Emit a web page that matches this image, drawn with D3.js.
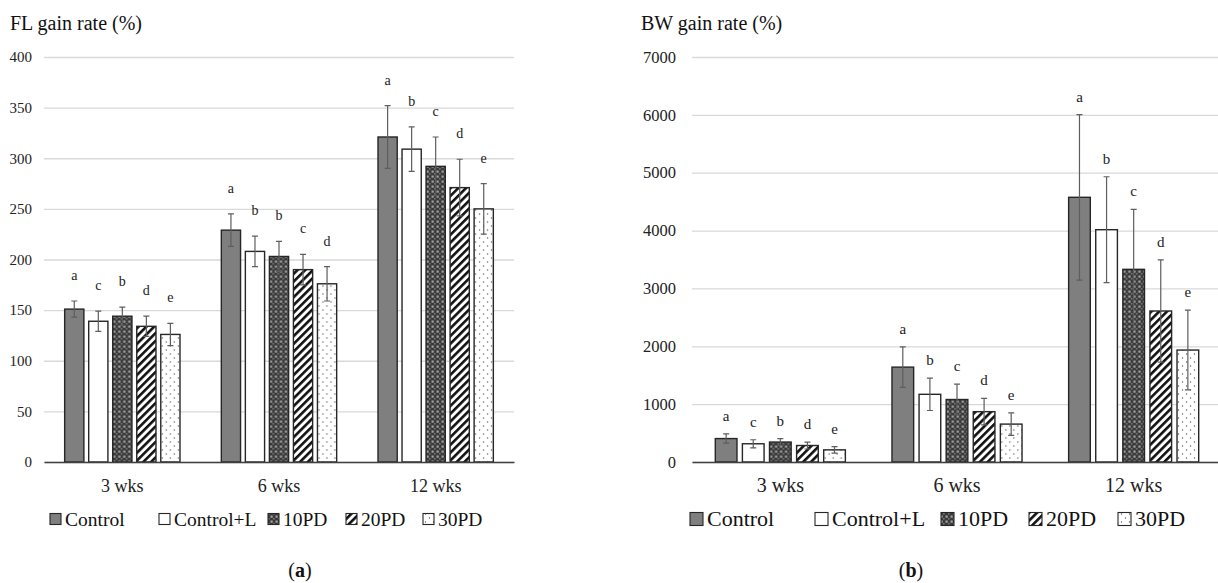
<!DOCTYPE html>
<html>
<head>
<meta charset="utf-8">
<script src="https://cdn.jsdelivr.net/npm/d3@7"></script>
<style>
  body { margin: 0; background: #fff; }
  svg, svg text { font-family: "Liberation Serif", "Tinos", "Times New Roman", "DejaVu Serif", serif !important; }
</style>
</head>
<body>
<script>
const width = 1218
const height = 583
const serif = "'Liberation Serif', Tinos, 'Times New Roman', 'DejaVu Serif', serif"

// data
const weeks = ["3 wks", "6 wks", "12 wks"]
const groups = ["Control", "Control+L", "10PD", "20PD", "30PD"]

const flMean = [[151, 139, 144, 134, 126], [229, 208, 203, 190, 176], [321, 309, 292, 271, 250]]
const flErr = [[8, 10, 9, 10, 11], [16, 15, 15, 15, 17], [31, 22, 29, 28, 25]]
const flLetters = [["a", "c", "b", "d", "e"], ["a", "b", "b", "c", "d"], ["a", "b", "c", "d", "e"]]
const flTicks = [0, 50, 100, 150, 200, 250, 300, 350, 400]

const bwMean = [[405, 315, 345, 285, 210], [1640, 1170, 1080, 870, 655], [4575, 4015, 3330, 2610, 1935]]
const bwErr = [[80, 70, 60, 60, 55], [350, 280, 265, 230, 195], [1430, 915, 1035, 885, 690]]
const bwLetters = [["a", "c", "b", "d", "e"], ["a", "b", "c", "d", "e"], ["a", "b", "c", "d", "e"]]
const bwTicks = [0, 1000, 2000, 3000, 4000, 5000, 6000, 7000]

const fills = ["#7f7f7f", "#ffffff", "url(#p10)", "url(#p20)", "url(#p30)"]

const svg = d3.select("body").append("svg").attr("width", width).attr("height", height)
    .attr("font-family", serif)

// patterns for the PD groups
const defs = svg.append("defs")
const p10 = defs.append("pattern").attr("id", "p10").attr("patternUnits", "userSpaceOnUse")
    .attr("width", 5).attr("height", 5)
p10.append("rect").attr("width", 5).attr("height", 5).attr("fill", "#3a3a3a")
p10.append("rect").attr("x", 0.5).attr("y", 0.5).attr("width", 2.2).attr("height", 2.2).attr("fill", "#a5a5a5")
p10.append("rect").attr("x", 3).attr("y", 3).attr("width", 1.6).attr("height", 1.6).attr("fill", "#777")

const p20 = defs.append("pattern").attr("id", "p20").attr("patternUnits", "userSpaceOnUse")
    .attr("width", 5.5).attr("height", 10).attr("patternTransform", "rotate(45)")
p20.append("rect").attr("width", 5.5).attr("height", 10).attr("fill", "#fff")
p20.append("rect").attr("width", 2.6).attr("height", 10).attr("fill", "#111")

const p30 = defs.append("pattern").attr("id", "p30").attr("patternUnits", "userSpaceOnUse")
    .attr("width", 8).attr("height", 8)
p30.append("rect").attr("width", 8).attr("height", 8).attr("fill", "#fff")
p30.append("circle").attr("cx", 1.5).attr("cy", 2).attr("r", 0.7).attr("fill", "#555")
p30.append("circle").attr("cx", 5.5).attr("cy", 6).attr("r", 0.7).attr("fill", "#555")

function drawChart(c) {
    const g = svg.append("g")

    let y = d3.scaleLinear().domain([0, c.ticks[c.ticks.length - 1]]).range([462, 57])
    let x0 = d3.scaleBand().domain(weeks).range([c.left, c.right])
    let x1 = d3.scaleBand().domain(groups).range([0, x0.bandwidth()])
        .paddingInner(0.2).paddingOuter(0.86)

    g.append("text")
        .attr("x", c.titleX).attr("y", 30)
        .attr("font-size", 20).attr("fill", "#111")
        .text(c.title)

    // y axis as grid
    g.append("g")
        .attr("transform", `translate(${c.left},0)`)
        .call(d3.axisLeft(y).tickValues(c.ticks).tickFormat(d3.format("d"))
            .tickSize(-(c.right - c.left)).tickPadding(c.tickPad))
        .attr("font-family", serif)
        .call(g => g.select(".domain").remove())
        .call(g => g.selectAll(".tick line").attr("stroke", "#d9d9d9").attr("stroke-width", 1.3))
        .call(g => g.selectAll(".tick text").attr("fill", "#222").attr("font-size", c.tickFont))

    // bars
    const data = []
    weeks.forEach((w, i) => groups.forEach((k, j) => data.push({
        week: w, group: k, j: j, v: c.mean[i][j], e: c.err[i][j], letter: c.letters[i][j]
    })))

    const bars = g.append("g").selectAll("g").data(data).join("g")
        .attr("transform", d => `translate(${x0(d.week) + x1(d.group)},0)`)

    bars.append("rect")
        .attr("y", d => y(d.v))
        .attr("width", x1.bandwidth())
        .attr("height", d => y(0) - y(d.v))
        .attr("fill", d => fills[d.j])
        .attr("stroke", "#262626")
        .attr("stroke-width", 1.4)

    const cx = x1.bandwidth() / 2
    bars.append("path")
        .attr("d", d => `M${cx},${y(d.v + d.e)}V${y(d.v - d.e)}M${cx - 3},${y(d.v + d.e)}h6M${cx - 3},${y(d.v - d.e)}h6`)
        .attr("stroke", "#5e5e5e")
        .attr("stroke-width", 1.2)
        .attr("fill", "none")

    bars.append("text")
        .attr("x", cx)
        .attr("y", d => y(d.v + d.e) - c.letterGap)
        .attr("text-anchor", "middle")
        .attr("font-size", c.letterFont)
        .attr("fill", "#222")
        .text(d => d.letter)

    // x axis
    g.append("g")
        .attr("transform", `translate(0,${y(0)})`)
        .call(d3.axisBottom(x0).tickSize(0).tickSizeOuter(0).tickPadding(c.catPad))
        .attr("font-family", serif)
        .call(g => g.select(".domain").attr("stroke", "#404040").attr("stroke-width", 1.6))
        .call(g => g.selectAll(".tick text").attr("fill", "#222").attr("font-size", c.catFont))

    // legend
    let lx = c.legendX
    groups.forEach((k, j) => {
        const s = c.marker
        g.append("rect")
            .attr("x", lx).attr("y", 519 - s / 2)
            .attr("width", s).attr("height", s)
            .attr("fill", fills[j])
            .attr("stroke", "#262626").attr("stroke-width", 1.1)
        g.append("text")
            .attr("x", lx + c.legendText).attr("y", 526)
            .attr("font-size", c.legendFont).attr("fill", "#111")
            .text(k)
        lx += c.slots[j] || 0
    })

    const cap = g.append("text")
        .attr("x", c.capX).attr("y", 577)
        .attr("text-anchor", "middle")
        .attr("font-size", 20).attr("fill", "#111")
    cap.append("tspan").text("(")
    cap.append("tspan").attr("font-weight", "bold").text(c.cap)
    cap.append("tspan").text(")")
}

drawChart({
    title: "FL gain rate (%)", titleX: 10,
    mean: flMean, err: flErr, letters: flLetters, ticks: flTicks,
    left: 44, right: 514, tickPad: 12, tickFont: 15,
    catFont: 18, catPad: 17, letterFont: 14, letterGap: 21,
    legendX: 50, marker: 11, legendText: 15, legendFont: 19.5, slots: [109, 109, 78, 77],
    cap: "a", capX: 300
})

drawChart({
    title: "BW gain rate (%)", titleX: 641,
    mean: bwMean, err: bwErr, letters: bwLetters, ticks: bwTicks,
    left: 692, right: 1222, tickPad: 16, tickFont: 16.5,
    catFont: 20, catPad: 16, letterFont: 15, letterGap: 13,
    legendX: 690, marker: 13, legendText: 17, legendFont: 22, slots: [125, 126, 88, 89],
    cap: "b", capX: 911
})
</script>
</body>
</html>
